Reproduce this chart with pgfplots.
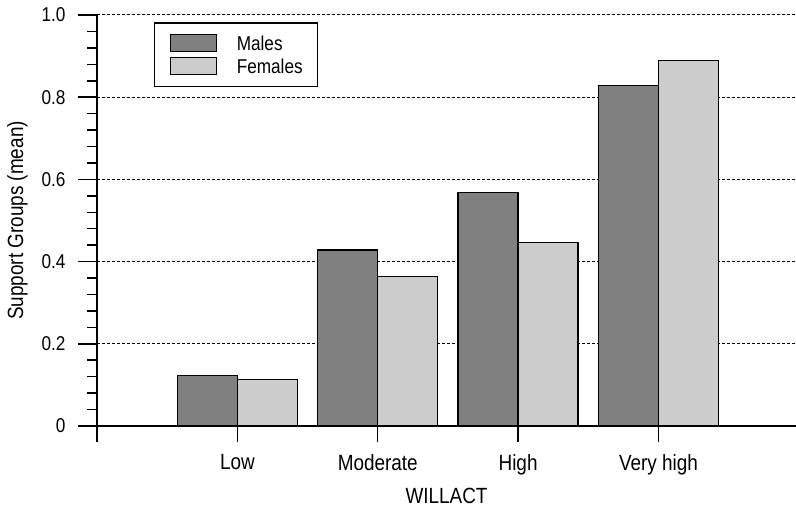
\documentclass[border=0pt]{standalone}
\usepackage{fontspec}
\setmainfont{Liberation Sans}[FakeStretch=0.86]
\usepackage{pgfplots}
\pgfplotsset{compat=1.18}
\definecolor{malegray}{HTML}{808080}
\definecolor{femgray}{HTML}{CCCCCC}
\pgfplotstableread{
x males females
1 0.123 0.114
2 0.428 0.364
3 0.568 0.446
4 0.829 0.889
}\datatable
\begin{document}
\begin{tikzpicture}
\useasboundingbox (0,0) rectangle (796bp,509bp);
\begin{axis}[
  at={(97bp,83bp)}, anchor=south west,
  scale only axis, width=699bp, height=411bp,
  xmin=0, xmax=4.98, ymin=0, ymax=1.0,
  axis x line=bottom, axis y line=left,
  axis line style={-, line width=2bp, black},
  xtick={0,1,2,3,4}, xticklabels={,Low,Moderate,High,Very high},
  ytick={0,0.2,0.4,0.6,0.8,1.0}, yticklabels={0,0.2,0.4,0.6,0.8,1.0},
  minor y tick num=4,
  tick align=outside,
  major tick length=19bp, minor tick length=10bp,
  x tick style={line width=1.5bp, black, /pgfplots/major tick length=16bp},
  y tick style={line width=1.5bp, black},
  yticklabel style={font=\fontsize{20bp}{24bp}\selectfont, xshift=-9bp},
  xticklabel style={font=\fontsize{22bp}{26bp}\selectfont, yshift=-6bp},
  ymajorgrids,
  grid style={black, line width=1bp, dash pattern=on 2.5bp off 2.5bp},
  xlabel={WILLACT}, ylabel={Support Groups (mean)},
  every axis x label/.style={at={(axis description cs:0.5,-0.17)}, anchor=center, font=\fontsize{22bp}{26bp}\selectfont},
  every axis y label/.style={at={(axis description cs:-0.114,0.5)}, anchor=center, rotate=90, font=\fontsize{22bp}{26bp}\selectfont},
  ybar=0pt, bar width=60bp,
  legend style={at={(0.0815,0.982)}, anchor=north west, draw=black, line width=1.2bp,
    inner xsep=15bp, inner ysep=11bp, row sep=5bp, column sep=20bp,
    nodes={inner sep=0pt},
    font=\fontsize{20bp}{24bp}\selectfont},
  legend cell align=left,
  legend image code/.code={\draw[#1, line width=1.2bp] (0bp,-8bp) rectangle (46bp,9bp);},
]
\addplot[fill=malegray, draw=black, line width=1.2bp] table[x=x, y=males] {\datatable};
\addplot[fill=femgray, draw=black, line width=1.2bp] table[x=x, y=females] {\datatable};
\legend{Males, Females}
\end{axis}
\end{tikzpicture}
\end{document}
